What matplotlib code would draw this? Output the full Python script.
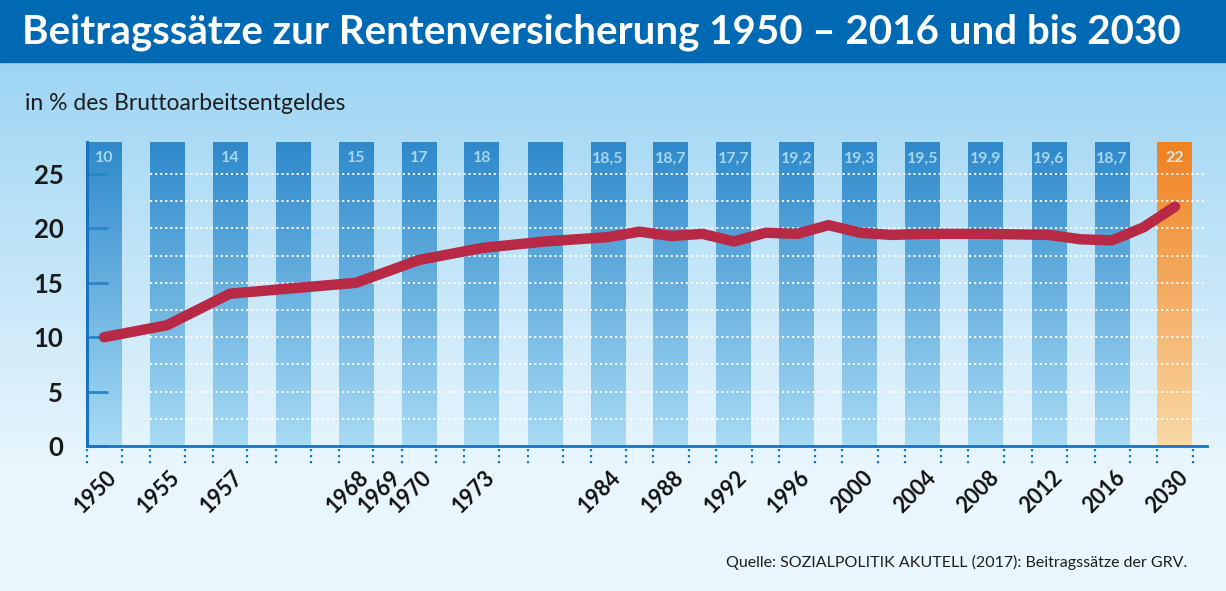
import matplotlib
matplotlib.use('Agg')
import matplotlib.pyplot as plt
import numpy as np
from matplotlib.colors import to_rgb
from matplotlib.patches import Rectangle
import matplotlib.transforms as mtransforms

# ---------------- data ----------------
title = "Beitragssätze zur Rentenversicherung 1950 – 2016 und bis 2030"
subtitle = "in % des Bruttoarbeitsentgeldes"
source = "Quelle: SOZIALPOLITIK AKUTELL (2017): Beitragssätze der GRV."

bar_labels = ['10', '', '14', '', '15', '17', '18', '', '18,5', '18,7', '17,7',
              '19,2', '19,3', '19,5', '19,9', '19,6', '18,7', '22']
year_labels = ['1950', '1955', '1957', '1968', '1969', '1970', '1973', '1984', '1988',
               '1992', '1996', '2000', '2004', '2008', '2012', '2016', '2030']
year_pos = [0, 1, 2, 4, 4.5, 5, 6, 8, 9, 10, 11, 12, 13, 14, 15, 16, 17]
line_pos = [0, 1, 2, 4, 5, 6, 7, 8, 8.5, 9, 9.5, 10, 10.5, 11, 11.5, 12, 12.5,
            13, 14, 15, 15.5, 16, 16.5, 17]
line_vals = [10, 11.1, 14, 15, 17.1, 18.2, 18.8, 19.2, 19.7, 19.3, 19.5, 18.8, 19.6,
             19.5, 20.3, 19.6, 19.4, 19.5, 19.5, 19.4, 19.0, 18.9, 20.1, 22.0]
y_ticks = [0, 5, 10, 15, 20, 25]

# ---------------- layout ----------------
W, H, DPI = 1226, 591, 100
FONT = ['Lato', 'DejaVu Sans']
plt.rcParams['font.family'] = FONT

fig = plt.figure(figsize=(W / DPI, H / DPI), dpi=DPI)

# background gradient
bg = fig.add_axes([0, 0, 1, 1], zorder=-10)
bg.set_axis_off()
rows = np.arange(H)
t = np.clip((rows - 62) / (470 - 62), 0, 1)[:, None]
c_top = np.array(to_rgb('#9dd5f3'))
c_bot = np.array(to_rgb('#eaf6fd'))
img = (c_top * (1 - t) + c_bot * t)[:, None, :]
bg.imshow(img, aspect='auto', extent=[0, 1, 0, 1], origin='upper')
bg.set_xlim(0, 1)
bg.set_ylim(0, 1)
bg.add_patch(Rectangle((0, 1 - 62 / H), 1, 62 / H, color='#0069b4', transform=bg.transAxes))

fig.text(22 / W, 1 - 32 / H, title, color='white', fontsize=29, fontweight='bold',
         va='center', ha='left')
fig.text(25 / W, 1 - 104 / H, subtitle, color='#1e1e1e', fontsize=16.5, va='center', ha='left')
fig.text(1187 / W, 1 - 562 / H, source, color='#1e1e1e', fontsize=11.5, va='center', ha='right')

# main axes
x0, x1, ytop, ybot = 87, 1207, 142, 446
ax = fig.add_axes([x0 / W, 1 - ybot / H, (x1 - x0) / W, (ybot - ytop) / H])
ax.patch.set_alpha(0)
pitch = 63.0
ppu = 10.88
ymax = (ybot - ytop) / ppu

n = len(bar_labels)
bw = 35 / pitch
grad = np.linspace(0, 1, 256)[:, None, None]
blue = (np.array(to_rgb('#2e89cb')) * (1 - grad) + np.array(to_rgb('#a8dbf5')) * grad)
orange = (np.array(to_rgb('#f08120')) * (1 - grad) + np.array(to_rgb('#f9d9a6')) * grad)
bars = ax.bar(range(n), [ymax] * n, width=bw, color='none', zorder=1)
for i, patch in enumerate(bars):
    g = orange if i == n - 1 else blue
    im = ax.imshow(g, aspect='auto', origin='upper',
                   extent=[i - bw / 2, i + bw / 2, 0, ymax], zorder=1)
    im.set_clip_path(patch)
ax.set_xlim((x0 - 104) / pitch, (x1 - 104) / pitch)
ax.set_ylim(0, ymax)

# grid lines (dotted white)
for k in range(1, 11):
    ax.plot([1 - bw / 2, (x1 - 104) / pitch], [2.5 * k] * 2, color='white',
            lw=1.3, ls=(0, (1.2, 1.6)), zorder=2)

# bar value labels
for i, lab in enumerate(bar_labels):
    if lab:
        col = '#d4ebf7' if i == n - 1 else '#a6d6f2'
        ax.text(i, (445.5 - 158) / ppu, lab, ha='center', va='center', fontsize=11.5,
                fontweight='bold', color=col, zorder=3)

# line
ax.plot(line_pos, line_vals, color='#b72944', lw=7.5, solid_capstyle='round',
        solid_joinstyle='round', zorder=4)

# spines
axis_blue = '#1b72bc'
for s in ['top', 'right']:
    ax.spines[s].set_visible(False)
ax.spines['left'].set_color(axis_blue)
ax.spines['left'].set_linewidth(2.2)
ax.spines['bottom'].set_color(axis_blue)
ax.spines['bottom'].set_linewidth(2.0)
ax.spines['left'].set_zorder(5)
ax.spines['bottom'].set_zorder(5)

ax.set_yticks(y_ticks)
ax.set_yticklabels([str(v) for v in y_ticks])
ax.tick_params(axis='y', direction='in', length=15, width=2, color='#2a85c9',
               pad=17, labelsize=18.5, labelcolor='#1a1a1a')
for lab in ax.get_yticklabels():
    lab.set_fontweight('bold')

ax.set_xticks(year_pos)
ax.set_xticklabels(year_labels, rotation=45, ha='right', va='top', rotation_mode='anchor')
ax.tick_params(axis='x', length=0, pad=15, labelsize=15.5, labelcolor='#111111')
offset = mtransforms.ScaledTranslation(2 / DPI, 0, fig.dpi_scale_trans)
for lab in ax.get_xticklabels():
    lab.set_fontweight('bold')
    lab.set_transform(lab.get_transform() + offset)

# dotted separators below axis
edges = []
for i in range(n):
    edges += [i - bw / 2, i + bw / 2]
ax.vlines(edges, -(448 - 445.5) / ppu, -(466 - 445.5) / ppu, colors='#1677c4',
          linestyles=[(0, (1, 1.7))], linewidth=1.6, clip_on=False, zorder=5)

fig.savefig('out.png', dpi=DPI)
